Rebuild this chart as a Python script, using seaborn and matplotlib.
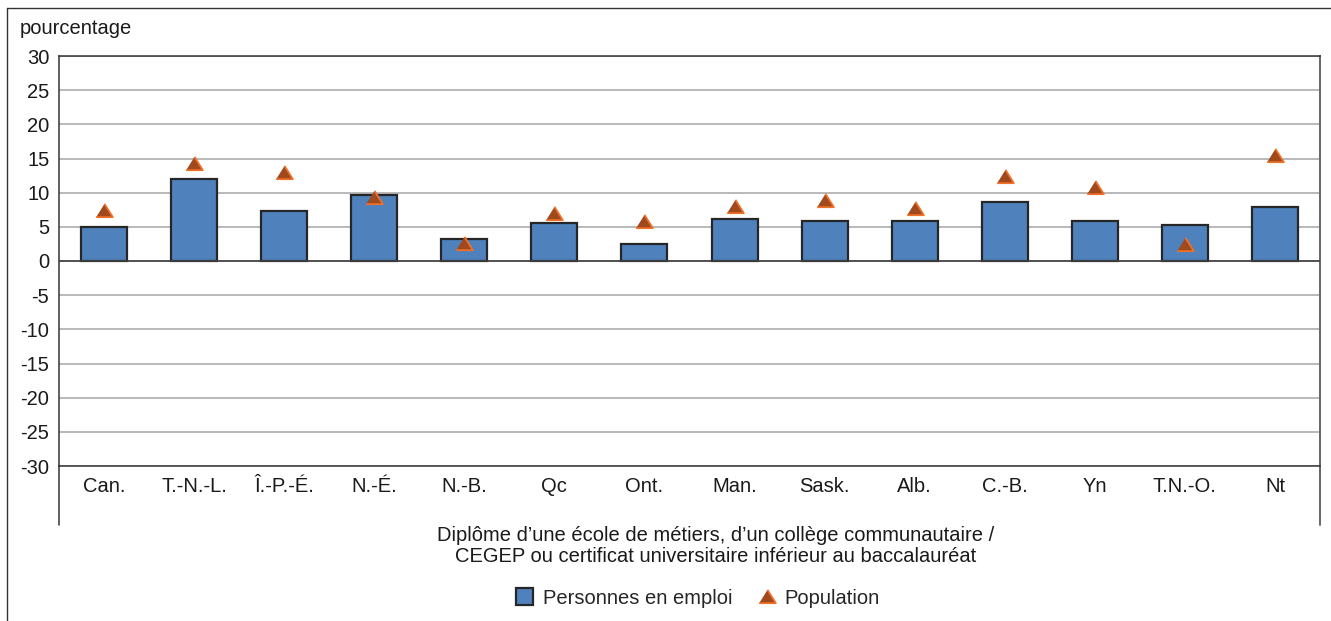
import numpy as np
import pandas as pd
import seaborn as sns
import matplotlib.pyplot as plt
from matplotlib.lines import Line2D
from matplotlib.patches import Patch

# valeurs
provinces = ["Can.", "T.-N.-L.", "Î.-P.-É.", "N.-É.", "N.-B.", "Qc", "Ont.",
             "Man.", "Sask.", "Alb.", "C.-B.", "Yn", "T.N.-O.", "Nt"]
emploi = [5.0, 12.0, 7.3, 9.7, 3.2, 5.6, 2.5, 6.1, 5.9, 5.8, 8.7, 5.9, 5.2, 7.9]
population = [7.5, 14.3, 13.0, 9.4, 2.6, 7.0, 5.8, 8.0, 8.9, 7.8, 12.5, 10.8, 2.5, 15.5]
y_ticks = list(range(-30, 31, 5))

df = pd.DataFrame({"province": provinces, "emploi": emploi, "population": population})

sns.set_theme(style="white")
plt.rcParams['font.family'] = ['Liberation Sans', 'DejaVu Sans']
FS = 14.5
plt.rcParams['font.size'] = FS

BLUE = "#4F81BD"
DARK = "#262626"
TEXT = "#1a1a1a"
TRI_FACE = "#A0491D"
TRI_EDGE = "#F07028"

W, H = 1331, 621
fig = plt.figure(figsize=(W / 100, H / 100), dpi=100)
ax = fig.add_axes([59 / W, 1 - 466 / H, (1320 - 59) / W, (466 - 56) / H])

sns.barplot(data=df, x="province", y="emploi", color=BLUE, width=0.51,
            edgecolor=DARK, linewidth=1.6, saturation=1, ax=ax, zorder=3)

tri = [(-1, -0.8), (1, -0.8), (0, 0.8)]
sns.stripplot(data=df, x="province", y="population", jitter=False, marker=tri,
              size=12, color=TRI_FACE, edgecolor=TRI_EDGE, linewidth=1.3,
              ax=ax, zorder=4)

ax.set_ylim(-30, 30)
ax.set_yticks(y_ticks)
ax.set_yticklabels([str(t) for t in y_ticks], fontsize=FS, color=TEXT)
ax.set_xlim(-0.5, len(provinces) - 0.5)
ax.tick_params(axis="y", length=0, pad=7)
ax.tick_params(axis="x", length=0, pad=8, labelsize=FS, labelcolor=TEXT)
ax.set_xlabel("")
ax.set_ylabel("")

ax.yaxis.grid(True, color="#A6A6A6", linewidth=1.1, zorder=0)
ax.set_axisbelow(True)
ax.axhline(0, color="#404040", linewidth=1.2, zorder=3.5)

for side in ["top", "left", "bottom"]:
    ax.spines[side].set_color("#333333")
    ax.spines[side].set_linewidth(1.1)
ax.spines["right"].set_color("#666666")
ax.spines["right"].set_linewidth(1.4)

# prolongement des bords verticaux sous l'axe des catégories
ext = -(525 - 466) / (466 - 56)
ax.add_line(Line2D([0, 0], [0, ext], transform=ax.transAxes, color="#333333",
                   linewidth=1.1, clip_on=False))
ax.add_line(Line2D([1, 1], [0, ext], transform=ax.transAxes, color="#666666",
                   linewidth=1.4, clip_on=False))

# cadre extérieur
fig.add_artist(Line2D([7 / W, 1], [1 - 8 / H, 1 - 8 / H], transform=fig.transFigure,
                      color="#333333", linewidth=1.0))
fig.add_artist(Line2D([7 / W, 7 / W], [0, 1 - 8 / H], transform=fig.transFigure,
                      color="#333333", linewidth=1.0))

fig.text(20 / W, 1 - 28 / H, "pourcentage", ha="left", va="center",
         fontsize=FS, color=TEXT)

fig.text(716 / W, 1 - 546 / H,
         "Diplôme d’une école de métiers, d’un collège communautaire /\n"
         "CEGEP ou certificat universitaire inférieur au baccalauréat",
         ha="center", va="center", multialignment="center", fontsize=FS,
         linespacing=1.15, color=TEXT)

handles = [Patch(facecolor=BLUE, edgecolor=DARK, linewidth=1.6),
           Line2D([], [], linestyle="none", marker=tri, markersize=12,
                  markerfacecolor=TRI_FACE, markeredgecolor=TRI_EDGE,
                  markeredgewidth=1.3)]
fig.legend(handles, ["Personnes en emploi", "Population"], loc="center",
           bbox_to_anchor=(698 / W, 1 - 598 / H), ncol=2, frameon=False,
           fontsize=FS, handlelength=0.85, handleheight=0.85, handletextpad=0.45,
           columnspacing=1.3)

fig.savefig("out.png", dpi=100)
